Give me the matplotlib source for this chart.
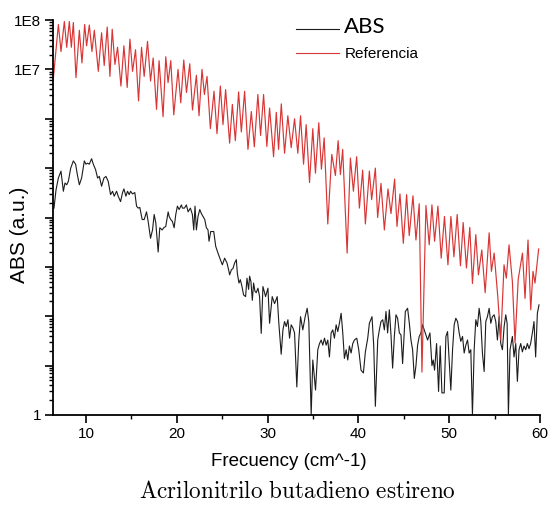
import numpy as np
import matplotlib.pyplot as plt
from matplotlib.ticker import LogLocator, MultipleLocator, NullFormatter, FuncFormatter
from matplotlib.lines import Line2D

# --- data ---
# Referencia (red): peaks and troughs of the oscillation
ref_x = [6.40, 6.96, 7.25, 7.62, 7.88, 8.17, 8.39, 8.61, 8.90, 9.27,
         9.56, 9.86, 10.07, 10.37, 10.66, 10.92, 11.36, 11.72, 12.01, 12.34,
         12.64, 12.89, 13.19, 13.48, 13.85, 14.18, 14.54, 14.84, 15.13, 15.46,
         15.79, 16.12, 16.41, 16.78, 17.11, 17.40, 17.77, 18.05, 18.49, 18.79,
         19.04, 19.34, 19.67, 20.14, 20.44, 20.77, 21.07, 21.43, 21.73, 22.16,
         22.45, 22.78, 23.04, 23.33, 23.70, 24.10, 24.43, 24.80, 25.09, 25.38,
         25.82, 26.12, 26.45, 26.81, 27.11, 27.47, 27.84, 28.21, 28.54, 28.93,
         29.23, 29.56, 29.92, 30.22, 30.66, 30.96, 31.21, 31.51, 31.87, 32.23,
         32.60, 32.97, 33.33, 33.63, 33.96, 34.25, 34.62, 34.98, 35.27, 35.64,
         35.93, 36.23, 36.63, 37.07, 37.47, 37.77, 38.02, 38.27, 38.76, 39.12,
         39.45, 39.81, 40.11, 40.47, 40.77, 41.21, 41.46, 41.87, 42.12, 42.49,
         42.86, 43.26, 43.59, 43.99, 44.25, 44.58, 44.95, 45.31, 45.60, 46.01,
         46.34, 46.70, 47.00, 47.44, 47.80, 48.10, 48.39, 48.76, 49.12, 49.48,
         49.86, 50.19, 50.52, 50.88, 51.24, 51.54, 51.90, 52.27, 52.56, 52.93,
         53.22, 53.59, 53.96, 54.40, 54.65, 54.95, 55.35, 55.68, 56.04, 56.29,
         56.59, 56.96, 57.25, 57.60, 58.07, 58.35, 58.68, 58.98, 59.23, 59.45,
         59.85]
ref_y = [6.3e6, 8.1e7, 2.3e7, 9.3e7, 2.8e7, 9.3e7, 2.8e7, 8.9e7, 6.8e6, 6.2e7,
         1.35e7, 8.1e7, 3.0e7, 7.9e7, 2.3e7, 6.2e7, 9.1e6, 5.5e7, 1.2e7, 7.2e7,
         7.2e6, 6.5e7, 1.26e7, 2.8e7, 4.6e6, 3.0e7, 4.3e6, 4.1e7, 9.1e6, 2.5e7,
         2.3e6, 2.8e7, 7.2e6, 3.7e7, 5.8e6, 1.7e7, 1.55e6, 1.5e7, 1.1e6, 1.8e7,
         5.4e6, 1.5e7, 1.2e6, 1.0e7, 2.1e6, 1.55e7, 3.4e6, 1.3e7, 1.5e6, 7.6e6,
         1.15e6, 1.0e7, 3.1e6, 7.2e6, 6.3e5, 3.6e6, 5.0e5, 4.6e6, 7.6e5, 3.9e6,
         3.2e5, 1.95e6, 3.6e5, 3.5e6, 5.4e5, 3.6e6, 2.4e5, 1.4e6, 2.7e5, 3.1e6,
         4.6e5, 3.1e6, 2.75e5, 1.65e6, 1.7e5, 1.35e6, 2.4e5, 2.0e6, 2.0e5, 1.15e6,
         2.6e5, 1.0e6, 2.0e5, 1.15e6, 1.2e5, 7.6e5, 5.1e4, 6.3e5, 7.9e4, 8.3e5,
         9.5e4, 4.1e5, 7.4e3, 1.9e5, 7.1e4, 3.6e5, 7.4e4, 2.4e5, 1.9e3, 1.6e5,
         3.4e4, 1.7e5, 1.55e4, 9.1e4, 7.4e3, 8.7e4, 2.3e4, 1.0e5, 1.0e4, 4.9e4,
         5.6e3, 3.8e4, 1.2e4, 6.0e4, 6.6e3, 3.0e4, 3.0e3, 2.9e4, 4.3e3, 2.75e4,
         3.5e3, 1.9e4, 7.4, 1.75e4, 2.8e3, 1.8e4, 3.3e3, 1.7e4, 1.5e3, 1.05e4,
         1.1e3, 1.05e4, 1.6e3, 1.15e4, 1.05e3, 7.9e3, 950, 6.3e3, 460, 4.5e3,
         690, 2.2e3, 300, 4.9e3, 810, 1.9e3, 250, 33, 1.1e3, 590,
         2.8e3, 500, 29, 560, 1.9e3, 230, 3.5e3, 135, 810, 470,
         2.3e3]

# ABS (black): measured spectrum
abs_x = [6.48, 6.70, 6.96, 7.25, 7.51, 7.69, 7.88, 8.06, 8.32, 8.61,
         8.86, 9.05, 9.27, 9.52, 9.82, 10.00, 10.18, 10.37, 10.62, 10.81,
         11.06, 11.28, 11.47, 11.72, 11.98, 12.20, 12.45, 12.71, 12.93, 13.11,
         13.37, 13.55, 13.81, 14.03, 14.18, 14.40, 14.58, 14.76, 14.91, 15.13,
         15.38, 15.57, 15.75, 15.93, 16.19, 16.41, 16.67, 16.85, 17.11, 17.33,
         17.51, 17.69, 17.95, 18.13, 18.39, 18.57, 18.79, 19.05, 19.16, 19.34,
         19.52, 19.71, 19.89, 20.07, 20.26, 20.51, 20.62, 20.84, 21.06, 21.25,
         21.50, 21.72, 21.87, 22.01, 22.16, 22.34, 22.53, 22.71, 22.89, 23.08,
         23.26, 23.44, 23.55, 23.74, 23.92, 24.07, 24.29, 24.54, 24.80, 25.02,
         25.27, 25.53, 25.71, 25.82, 26.01, 26.19, 26.37, 26.56, 26.67, 26.85,
         27.00, 27.18, 27.36, 27.58, 27.73, 27.91, 28.02, 28.17, 28.32, 28.46,
         28.61, 28.75, 28.94, 29.12, 29.30, 29.49, 29.78, 30.04, 30.22, 30.51,
         30.77, 31.06, 31.24, 31.50, 31.69, 31.87, 32.05, 32.24, 32.42, 32.60,
         32.79, 32.97, 33.22, 33.44, 33.63, 33.88, 34.14, 34.36, 34.54, 34.80,
         34.98, 35.28, 35.53, 35.72, 35.90, 36.08, 36.27, 36.45, 36.63, 36.81,
         37.00, 37.18, 37.36, 37.55, 37.73, 37.91, 38.10, 38.28, 38.46, 38.65,
         38.83, 39.01, 39.20, 39.38, 39.56, 39.82, 40.04, 40.29, 40.55, 40.77,
         41.03, 41.21, 41.50, 41.69, 41.87, 42.13, 42.31, 42.49, 42.68, 42.86,
         43.04, 43.22, 43.41, 43.59, 43.77, 43.96, 44.14, 44.32, 44.51, 44.69,
         44.87, 45.17, 45.42, 45.61, 45.79, 45.97, 46.16, 46.34, 46.52, 46.70,
         46.89, 47.07, 47.25, 47.44, 47.62, 47.88, 48.10, 48.24, 48.39, 48.61,
         48.83, 49.01, 49.20, 49.45, 49.64, 49.82, 50.00, 50.18, 50.37, 50.55,
         50.73, 50.92, 51.10, 51.28, 51.47, 51.65, 51.83, 52.02, 52.20, 52.38,
         52.56, 52.75, 52.93, 53.11, 53.30, 53.48, 53.66, 53.85, 54.03, 54.21,
         54.40, 54.58, 54.76, 54.95, 55.13, 55.31, 55.50, 55.68, 55.86, 56.05,
         56.23, 56.38, 56.52, 56.70, 56.96, 57.14, 57.33, 57.51, 57.69, 57.88,
         58.06, 58.24, 58.43, 58.61, 58.79, 58.97, 59.16, 59.34, 59.52, 59.71,
         59.89]
abs_y = [1.55e4, 3.6e4, 6.3e4, 8.7e4, 3.4e4, 5.0e4, 4.6e4, 5.4e4, 1.0e5, 1.4e5,
         1.2e5, 7.4e4, 4.6e4, 6.3e4, 1.4e5, 1.2e5, 1.26e5, 1.2e5, 1.55e5, 1.2e5,
         9.3e4, 6.3e4, 6.8e4, 4.3e4, 6.3e4, 6.8e4, 5.4e4, 2.9e4, 3.4e4, 2.7e4,
         3.4e4, 2.7e4, 2.1e4, 3.2e4, 3.8e4, 2.7e4, 3.4e4, 2.9e4, 3.4e4, 3.0e4,
         3.2e4, 1.7e4, 1.55e4, 1.6e4, 9.1e3, 9.1e3, 1.3e4, 8.3e3, 3.8e3, 5.6e3,
         1.15e4, 7.8e3, 2.0e3, 6.2e3, 5.6e3, 6.2e3, 6.6e3, 1.3e4, 1.05e4, 9.1e3,
         8.3e3, 6.2e3, 1.15e4, 1.7e4, 1.45e4, 1.8e4, 1.55e4, 1.55e4, 1.8e4, 1.3e4,
         1.55e4, 1.15e4, 5.6e3, 1.7e4, 5.6e3, 1.05e4, 1.45e4, 1.2e4, 1.05e4, 9.1e3,
         6.2e3, 5.6e3, 3.3e3, 5.2e3, 5.2e3, 5.2e3, 2.6e3, 1.9e3, 1.4e3, 1.1e3,
         1.5e3, 1.2e3, 870, 690, 870, 930, 1.2e3, 1.4e3, 740, 470,
         550, 400, 270, 250, 590, 350, 650, 500, 210, 470,
         320, 300, 370, 250, 45, 400, 250, 370, 72, 250,
         180, 250, 72, 17, 53, 78, 62, 85, 36, 67,
         58, 46, 3.7, 33, 98, 53, 98, 145, 78, 1.0,
         13, 3.2, 21, 28, 33, 26, 36, 26, 33, 15,
         46, 53, 36, 67, 49, 72, 115, 46, 14, 21,
         13, 25, 18, 28, 33, 36, 21, 8.1, 7.1, 19,
         36, 72, 98, 25, 1.5, 33, 53, 78, 85, 53,
         125, 46, 135, 42, 8.9, 39, 107, 91, 46, 42,
         11, 125, 145, 72, 33, 21, 5.5, 10, 26, 39,
         46, 67, 53, 42, 33, 46, 10, 13, 8.1, 28,
         3.0, 25, 2.8, 2.8, 39, 49, 13, 3.2, 21, 67,
         91, 78, 46, 31, 39, 18, 26, 33, 18, 21,
         1.0, 21, 85, 62, 145, 78, 18, 7.6, 78, 98,
         145, 72, 98, 107, 78, 33, 98, 28, 21, 62,
         107, 72, 1.0, 21, 39, 15, 28, 4.8, 21, 28,
         19, 25, 21, 28, 22, 28, 46, 78, 15, 115,
         170]

fig = plt.figure(figsize=(5.51, 5.07), dpi=100)
plt.rcParams['font.family'] = 'Liberation Sans'
plt.rcParams['mathtext.fontset'] = 'cm'

ax = fig.add_axes([53/551, 1 - 415/507, 487/551, 395/507])
ax.plot(abs_x, abs_y, color='#1c1c1c', lw=0.8, solid_joinstyle='round')
ax.plot(ref_x, ref_y, color='#d93535', lw=0.85, solid_joinstyle='round')

ax.set_yscale('log')
ax.set_ylim(1, 1e8)
ax.set_xlim(6.37, 60)

ax.yaxis.set_major_locator(LogLocator(base=10, numticks=20))
ax.yaxis.set_minor_locator(LogLocator(base=10, subs=np.arange(2, 10), numticks=20))
ax.yaxis.set_minor_formatter(NullFormatter())
ylab = {0: '1', 7: '1E7', 8: '1E8'}
ax.yaxis.set_major_formatter(FuncFormatter(lambda v, p: ylab.get(int(round(np.log10(v))), '')))
ax.xaxis.set_major_locator(MultipleLocator(10))
ax.xaxis.set_minor_locator(MultipleLocator(5))

for s in ['top', 'right']:
    ax.spines[s].set_visible(False)
for s in ['left', 'bottom']:
    ax.spines[s].set_linewidth(1.3)
ax.tick_params(axis='both', which='major', direction='out', length=5.5, width=1.2,
               labelsize=11, pad=3)
ax.tick_params(axis='both', which='minor', direction='out', length=3, width=1.0)

# legend
handles = [Line2D([], [], color='#1c1c1c', lw=0.8), Line2D([], [], color='#d93535', lw=0.8)]
leg = ax.legend(handles, ['ABS', 'Referencia'], loc='upper left',
                bbox_to_anchor=(0.474, 1.038), frameon=False, handlelength=3.1,
                handletextpad=0.36, labelspacing=0.65)
leg.get_texts()[0].set_fontsize(16)
leg.get_texts()[0].set_family('Lato')
leg.get_texts()[1].set_fontsize(11)

fig.text(20/551, 1 - 235/507, 'ABS (a.u.)', rotation=90, fontsize=15,
         ha='center', va='center')
fig.text(289/551, 1 - 462/507, 'Frecuency (cm^-1)', fontsize=13.5,
         ha='center', va='center')
fig.text(297/551, 1 - 491/507, r'$\mathrm{Acrilonitrilo\ butadieno\ estireno}$',
         fontsize=16.7, ha='center', va='center')

fig.savefig('out.png', dpi=100)
